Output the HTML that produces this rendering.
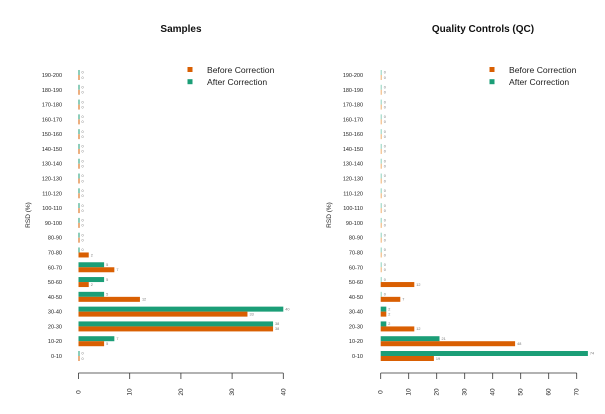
<!DOCTYPE html>
<html><head><meta charset="utf-8">
<style>
html,body{margin:0;padding:0;background:#fff;}
svg{display:block;font-family:"Liberation Sans",sans-serif;}
</style></head>
<body>
<svg id="chart" width="605" height="414" viewBox="0 0 605 414" xmlns="http://www.w3.org/2000/svg"></svg>
<script>
const categories = ["0-10","10-20","20-30","30-40","40-50","50-60","60-70","70-80","80-90","90-100","100-110","110-120","120-130","130-140","140-150","150-160","160-170","170-180","180-190","190-200"];
const samplesBefore = [0,5,38,33,12,2,7,2,0,0,0,0,0,0,0,0,0,0,0,0];
const samplesAfter  = [0,7,38,40,5,5,5,0,0,0,0,0,0,0,0,0,0,0,0,0];
const qcBefore = [19,48,12,2,7,12,0,0,0,0,0,0,0,0,0,0,0,0,0,0];
const qcAfter  = [74,21,2,2,0,0,0,0,0,0,0,0,0,0,0,0,0,0,0,0];
const samplesTicks = [0,10,20,30,40];
const qcTicks = [0,10,20,30,40,50,60,70];

const NS = "http://www.w3.org/2000/svg";
const svg = document.getElementById("chart");
const ORANGE = "#d95f02", GREEN = "#1b9e77";
function mk(tag, attrs, parent){
  const e = document.createElementNS(NS, tag);
  for (const k in attrs) e.setAttribute(k, attrs[k]);
  (parent||svg).appendChild(e);
  return e;
}
function rowY(i){ return 356 - i*14.79; }

function panel(opt){
  const g = mk("g", {});
  
  
  const xs = v => opt.x0 + v*opt.ppu;
  const t = mk("text", {x:opt.titleX, y:32, "text-anchor":"middle", "font-size":"10", "font-weight":"bold", fill:"#111"}, g);
  t.textContent = opt.title;
  
  
  const yl = mk("text", {x:0, y:0, transform:`translate(${opt.ylabX},215) rotate(-90)`, "text-anchor":"middle", "font-size":"6.5", fill:"#222"}, g);
  yl.textContent = "RSD (%)";
  
  
  categories.forEach((c,i)=>{
    const y = rowY(i);
    const lab = mk("text", {x:opt.labR, y:y+2, "text-anchor":"end", "font-size":"5.5", fill:"#222"}, g);
    lab.textContent = c;
    
    
    const a = opt.after[i], b = opt.before[i];
    const wa = Math.max(1, a*opt.ppu), wb = Math.max(1, b*opt.ppu);
    const ra = mk("rect", {x:opt.x0, y:y-5, width:wa, height:5, fill: a===0? opt.zeroA : GREEN}, g);
    
    
    const rb = mk("rect", {x:opt.x0, y:y, width:wb, height:5, fill: b===0? opt.zeroB : ORANGE}, g);
    
    
    const ta = mk("text", {x:opt.x0+wa+2, y:y-1.3, "font-size":"3.8", fill:"#777"}, g);
    ta.textContent = a;
    
    
    const tb = mk("text", {x:opt.x0+wb+2, y:y+3.8, "font-size":"3.8", fill:"#777"}, g);
    tb.textContent = b;
    
    
  });
  const ticks = opt.ticks;
  const ax = mk("line", {x1:xs(ticks[0]), x2:xs(ticks[ticks.length-1]), y1:373, y2:373, stroke:"#333", "stroke-width":"0.8"}, g);
  
  
  ticks.forEach(v=>{
    const tk = mk("line", {x1:xs(v), x2:xs(v), y1:373, y2:379, stroke:"#333", "stroke-width":"0.8"}, g);
    
    
    const tl = mk("text", {x:0, y:0, transform:`translate(${xs(v)+2},392) rotate(-90)`, "text-anchor":"middle", "font-size":"6.5", fill:"#222"}, g);
    tl.textContent = v;
    
    
  });
  const lg = mk("g", {}, g);
  
  
  [["Before Correction",ORANGE,69.5],["After Correction",GREEN,81.7]].forEach(([txt,col,y])=>{
    const sq = mk("rect", {x:opt.legX-2.5, y:y-2.5, width:5, height:5, fill:col}, lg);
    
    
    const lt = mk("text", {x:opt.legX+17, y:y+3.3, "font-size":"8.6", fill:"#222"}, lg);
    lt.textContent = txt;
    
    
  });
}

panel({name:"samples-panel", title:"Samples", titleX:181, ylabX:30, labR:62, x0:78.5, ppu:5.12,
  before:samplesBefore, after:samplesAfter, ticks:samplesTicks, legX:190, zeroA:GREEN, zeroB:ORANGE});
panel({name:"qc-panel", title:"Quality Controls (QC)", titleX:483, ylabX:331, labR:363, x0:380.7, ppu:2.8,
  before:qcBefore, after:qcAfter, ticks:qcTicks, legX:492, zeroA:"#8fd1bd", zeroB:"#f0b070"});
</script>
</body></html>
